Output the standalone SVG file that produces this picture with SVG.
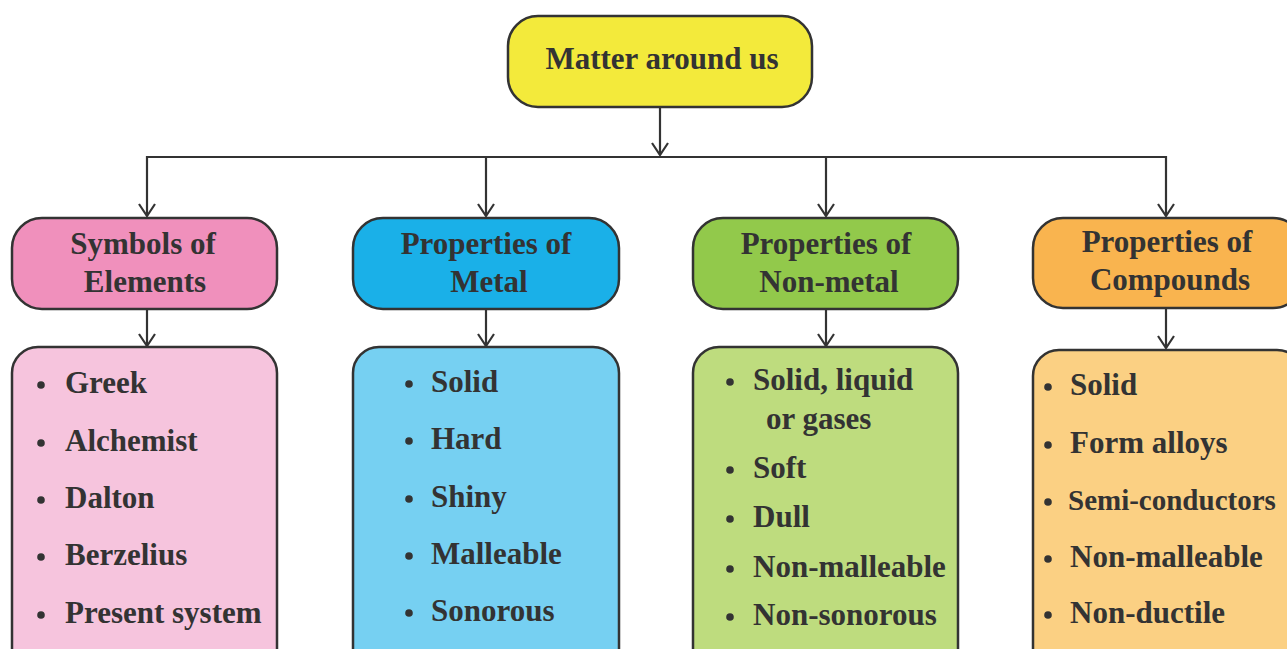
<svg xmlns="http://www.w3.org/2000/svg" width="1287" height="649" viewBox="0 0 1287 649">
<defs>
<style>
.box{stroke:#333;stroke-width:2.5}
.t{font-family:"Liberation Serif","Times New Roman",serif;font-weight:bold;font-size:31px;fill:#333}
.h{text-anchor:middle}
.ln{fill:none;stroke:#333;stroke-width:2.2}
.dot{fill:#333}
</style>
<marker id="ah" markerUnits="userSpaceOnUse" markerWidth="20" markerHeight="20" viewBox="-14 -10 16 20" refX="0" refY="0" orient="auto" overflow="visible">
<path d="M-12,-8 L0,0 L-12,8" fill="none" stroke="#333" stroke-width="2.2"/>
</marker>
</defs>
<rect width="1287" height="649" fill="#fff"/>
<g id="connectors">
<line class="ln" x1="660" y1="107" x2="660" y2="155" marker-end="url(#ah)"/>
<polyline class="ln" points="147,157 1166,157 1166,216" marker-end="url(#ah)"/>
<line class="ln" x1="147" y1="156" x2="147" y2="216" marker-end="url(#ah)"/>
<line class="ln" x1="486" y1="157" x2="486" y2="216" marker-end="url(#ah)"/>
<line class="ln" x1="826" y1="157" x2="826" y2="216" marker-end="url(#ah)"/>
<line class="ln" x1="147" y1="309" x2="147" y2="346" marker-end="url(#ah)"/>
<line class="ln" x1="486" y1="309" x2="486" y2="346" marker-end="url(#ah)"/>
<line class="ln" x1="826" y1="309" x2="826" y2="346" marker-end="url(#ah)"/>
<line class="ln" x1="1166" y1="309" x2="1166" y2="348" marker-end="url(#ah)"/>
</g>
<g id="root">
<rect class="box" x="508" y="16" width="304" height="91" rx="30" fill="#F3EA3B"/>
<text class="t h" x="662" y="69">Matter around us</text>
</g>
<g id="symbols">
<rect class="box" x="12" y="218" width="265" height="91" rx="30" fill="#F090BC"/>
<text class="t h" x="143" y="254">Symbols of</text>
<text class="t h" x="145" y="292">Elements</text>
</g>
<g id="symbols-list">
<rect class="box" x="12" y="347" width="265" height="330" rx="26" fill="#F6C4DD"/>
<g class="dot"><circle cx="41" cy="385" r="3.8"/><circle cx="41" cy="443" r="3.8"/><circle cx="41" cy="500" r="3.8"/><circle cx="41" cy="557" r="3.8"/><circle cx="41" cy="615" r="3.8"/></g>
<text class="t" x="65" y="393">Greek</text>
<text class="t" x="65" y="451">Alchemist</text>
<text class="t" x="65" y="508">Dalton</text>
<text class="t" x="65" y="565">Berzelius</text>
<text class="t" x="65" y="623">Present system</text>
</g>
<g id="metal">
<rect class="box" x="353" y="218" width="266" height="91" rx="30" fill="#1AB0E8"/>
<text class="t h" x="486" y="254">Properties of</text>
<text class="t h" x="489" y="292">Metal</text>
</g>
<g id="metal-list">
<rect class="box" x="353" y="347" width="266" height="330" rx="26" fill="#76D0F2"/>
<g class="dot"><circle cx="409" cy="384" r="3.8"/><circle cx="409" cy="441" r="3.8"/><circle cx="409" cy="499" r="3.8"/><circle cx="409" cy="556" r="3.8"/><circle cx="409" cy="613" r="3.8"/></g>
<text class="t" x="431" y="392">Solid</text>
<text class="t" x="431" y="449">Hard</text>
<text class="t" x="431" y="507">Shiny</text>
<text class="t" x="431" y="564">Malleable</text>
<text class="t" x="431" y="621">Sonorous</text>
</g>
<g id="nonmetal">
<rect class="box" x="693" y="218" width="265" height="91" rx="30" fill="#92C94B"/>
<text class="t h" x="826" y="254">Properties of</text>
<text class="t h" x="829" y="292">Non-metal</text>
</g>
<g id="nonmetal-list">
<rect class="box" x="693" y="347" width="265" height="330" rx="26" fill="#BEDC7E"/>
<g class="dot"><circle cx="730" cy="382" r="3.8"/><circle cx="730" cy="470" r="3.8"/><circle cx="730" cy="519" r="3.8"/><circle cx="730" cy="569" r="3.8"/><circle cx="730" cy="617" r="3.8"/></g>
<text class="t" x="753" y="390">Solid, liquid</text>
<text class="t" x="766" y="429">or gases</text>
<text class="t" x="753" y="478">Soft</text>
<text class="t" x="753" y="527">Dull</text>
<text class="t" x="753" y="577">Non-malleable</text>
<text class="t" x="753" y="625">Non-sonorous</text>
</g>
<g id="compounds">
<rect class="box" x="1033" y="218" width="270" height="90" rx="30" fill="#F9B44F"/>
<text class="t h" x="1167" y="252">Properties of</text>
<text class="t h" x="1170" y="290">Compounds</text>
</g>
<g id="compounds-list">
<rect class="box" x="1033" y="350" width="270" height="330" rx="26" fill="#FBD083"/>
<g class="dot"><circle cx="1048" cy="387" r="3.8"/><circle cx="1048" cy="445" r="3.8"/><circle cx="1048" cy="502" r="3.8"/><circle cx="1048" cy="559" r="3.8"/><circle cx="1048" cy="615" r="3.8"/></g>
<text class="t" x="1070" y="395">Solid</text>
<text class="t" x="1070" y="453">Form alloys</text>
<text class="t" x="1068" y="510" style="font-size:29px">Semi-conductors</text>
<text class="t" x="1070" y="567">Non-malleable</text>
<text class="t" x="1070" y="623">Non-ductile</text>
</g>
</svg>
